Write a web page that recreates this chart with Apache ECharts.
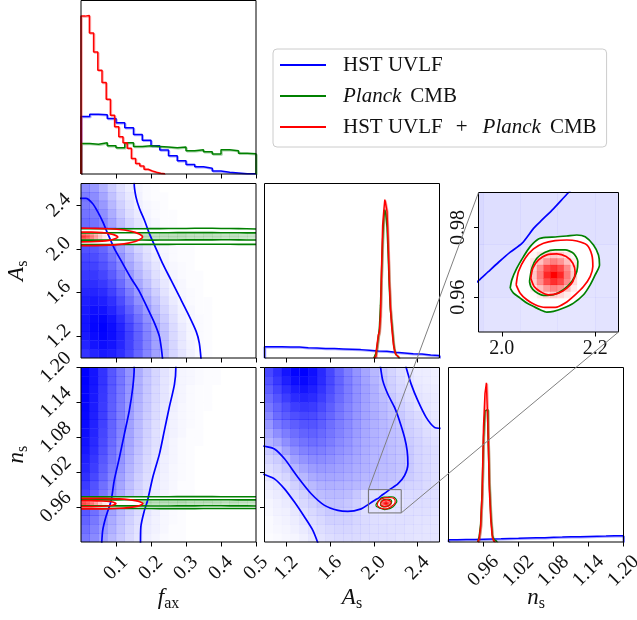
<!DOCTYPE html>
<html>
<head>
<meta charset="utf-8">
<script src="https://cdn.jsdelivr.net/npm/echarts@6/dist/echarts.min.js"></script>
<style>
  html, body { margin: 0; padding: 0; background: #ffffff; }
  #chart { width: 637px; height: 620px; }
</style>
</head>
<body>
<div id="chart"></div>
<script>
// ---------------- data ----------------
const NAME_BLUE = 'HST UVLF';
const NAME_GREEN = 'Planck CMB';
const NAME_RED = 'HST UVLF + Planck CMB';

// axis ranges and tick positions
const faxRange = [0, 0.5];
const asRange = [1.0, 2.6];
const nsRange = [0.9, 1.2];
const insetAsRange = [1.95, 2.25];
const insetNsRange = [0.95, 0.99];
const faxTicks = [0.1, 0.2, 0.3, 0.4, 0.5];
const asTicks = [1.2, 1.6, 2.0, 2.4];
const nsTicks = [0.96, 1.02, 1.08, 1.14, 1.20];
const insetAsTicks = [2.0, 2.2];
const insetNsTicks = [0.96, 0.98];

// 1D marginals (first bin edge, bin width, heights)
const faxBlueBins = [0, 0.025];
const faxBlue = [33.1, 34.5, 34.1, 32.0, 29.5, 26.6, 22.8, 19.5, 16.3, 13.8, 10.5, 7.7, 5.5, 4.2, 3.3, 1.7, 1.0, 0.6, 0.2, 0.2];
const faxGreenBins = [0, 0.025];
const faxGreen = [17.6, 17.2, 18.0, 16.3, 15.1, 18.0, 15.9, 16.3, 15.9, 15.5, 15.1, 15.5, 13.4, 14.0, 12.8, 11.5, 14.0, 13.4, 11.9, 11.7];
const faxRedBins = [0, 0.012];
const faxRed = [91.0, 91.4, 81.2, 70.3, 59.8, 52.7, 43.1, 33.9, 27.2, 21.5, 18.0, 14.8, 9.0, 6.1, 4.6, 2.7, 1.7, 1.0, 0.4, 0.2];

const asBlueBins = [1.0, 0.08];
const asBlue = [6.5, 6.5, 6.3, 6.3, 5.9, 5.7, 5.5, 5.4, 5.2, 5.0, 4.8, 4.4, 4.0, 3.8, 3.3, 2.9, 2.5, 2.3, 1.7, 1.5];
const asGreenBins = [2.0, 0.01];
const asGreen = [0.5, 1.5, 3, 7, 12, 17, 30, 50, 68, 80, 85, 82, 75, 60, 42, 28, 22, 15, 8, 4, 2, 1, 0.5];
const asRedBins = [2.0, 0.01];
const asRed = [0.2, 1.1, 3.4, 8.2, 13, 15, 24, 52, 76, 84, 90.8, 87.6, 84, 65, 45, 30, 20, 13, 7, 4, 2, 1, 0.3];

const nsBlueBins = [0.9, 0.015];
const nsBlue = [1.3, 1.4, 1.4, 1.6, 1.7, 1.8, 2.0, 2.1, 2.3, 2.4, 2.5, 2.7, 2.8, 3.0, 3.0, 3.2, 3.3, 3.4, 3.6, 3.6];
const nsGreenBins = [0.95, 0.0025];
const nsGreen = [1, 3, 10, 28, 60, 75, 76, 65, 33, 15, 4, 1.5, 0.5];
const nsRedBins = [0.95, 0.0025];
const nsRed = [0.2, 2, 8.6, 27.7, 66, 85, 91.2, 66, 29.6, 12.4, 2.9, 0.4];

// 2D densities of HST UVLF (rows listed from the top of each panel), percent shading
const faxAsBlue = [
  [45,40,30,20,12,7,4,2,1,0,0,0,0,0,0,0,0,0,0,0],
  [50,45,35,24,15,9,5,2,1,1,0,0,0,0,0,0,0,0,0,0],
  [52,48,40,28,18,11,6,3,2,1,0,0,0,0,0,0,0,0,0,0],
  [55,52,44,32,21,13,8,4,2,1,1,0,0,0,0,0,0,0,0,0],
  [58,55,48,36,25,16,10,5,3,1,1,0,0,0,0,0,0,0,0,0],
  [60,58,52,40,28,19,12,7,4,2,1,1,0,0,0,0,0,0,0,0],
  [64,62,56,44,32,22,14,9,5,3,1,1,0,0,0,0,0,0,0,0],
  [68,66,60,49,37,26,17,11,6,3,2,1,1,0,0,0,0,0,0,0],
  [72,70,64,54,42,30,21,13,8,4,2,1,1,0,0,0,0,0,0,0],
  [75,74,68,59,47,35,25,16,10,5,3,2,1,0,0,0,0,0,0,0],
  [78,78,73,64,52,40,29,20,12,7,4,2,1,1,0,0,0,0,0,0],
  [82,82,78,70,58,45,34,24,15,9,5,3,1,1,0,0,0,0,0,0],
  [85,86,83,75,64,51,39,28,19,11,6,3,2,1,0,0,0,0,0,0],
  [88,90,88,81,70,57,44,33,23,14,8,4,2,1,1,0,0,0,0,0],
  [90,94,93,86,76,63,50,38,27,17,10,5,3,1,1,0,0,0,0,0],
  [92,97,98,92,82,69,56,43,31,20,12,6,3,2,1,0,0,0,0,0],
  [92,98,100,95,86,73,60,47,35,23,14,8,4,2,1,0,0,0,0,0],
  [90,96,99,95,87,75,62,49,37,25,15,9,4,2,1,0,0,0,0,0],
  [86,92,95,92,85,74,62,49,37,26,16,9,5,2,1,0,0,0,0,0],
  [80,86,90,88,82,72,60,48,37,26,16,10,5,2,1,0,0,0,0,0]
];
const faxNsBlue = [
  [100,92,80,66,54,42,32,23,16,11,7,4,3,2,1,1,0,0,0,0],
  [100,92,80,66,54,42,31,22,16,10,7,4,3,2,1,1,0,0,0,0],
  [99,91,79,65,53,41,31,22,15,10,6,4,2,1,1,0,0,0,0,0],
  [99,90,78,64,52,40,30,21,15,10,6,4,2,1,1,0,0,0,0,0],
  [98,89,77,63,51,39,29,21,14,9,6,3,2,1,1,0,0,0,0,0],
  [97,88,76,62,50,38,28,20,14,9,5,3,2,1,0,0,0,0,0,0],
  [96,87,75,61,49,37,27,19,13,8,5,3,2,1,0,0,0,0,0,0],
  [95,86,73,60,48,36,26,18,12,8,5,3,1,1,0,0,0,0,0,0],
  [93,84,71,58,46,35,25,17,12,7,4,2,1,1,0,0,0,0,0,0],
  [91,82,69,56,44,33,24,16,11,7,4,2,1,0,0,0,0,0,0,0],
  [88,79,66,54,42,31,22,15,10,6,4,2,1,0,0,0,0,0,0,0],
  [85,76,63,51,40,29,21,14,9,6,3,2,1,0,0,0,0,0,0,0],
  [81,72,60,48,37,27,19,13,8,5,3,2,1,0,0,0,0,0,0,0],
  [77,68,56,45,35,25,18,12,8,5,3,1,1,0,0,0,0,0,0,0],
  [73,64,53,42,32,23,16,11,7,4,2,1,1,0,0,0,0,0,0,0],
  [69,60,49,39,30,21,15,10,6,4,2,1,0,0,0,0,0,0,0,0],
  [65,56,46,36,27,20,14,9,6,3,2,1,0,0,0,0,0,0,0,0],
  [61,53,43,33,25,18,12,8,5,3,2,1,0,0,0,0,0,0,0,0],
  [57,49,40,31,23,16,11,7,5,3,1,1,0,0,0,0,0,0,0,0],
  [53,46,37,28,21,15,10,6,4,2,1,1,0,0,0,0,0,0,0,0]
];
const asNsBlue = [
  [72,82,92,99,100,94,84,72,60,50,42,35,28,22,17,13,10,7,7,6],
  [68,78,88,95,97,92,83,72,61,51,43,36,29,23,18,14,10,8,7,6],
  [63,73,82,89,92,88,80,70,60,51,43,37,31,24,19,15,12,9,8,7],
  [58,67,76,83,86,83,76,67,58,50,43,37,31,26,21,17,13,10,9,8],
  [53,61,69,76,79,77,71,63,55,48,42,36,31,27,23,19,15,11,9,8],
  [47,58,64,69,72,71,66,60,53,47,41,36,32,28,24,21,17,14,10,9],
  [41,52,58,63,67,67,63,57,51,46,40,35,31,28,25,22,18,15,12,9],
  [35,44,51,57,61,62,59,54,49,44,39,34,30,28,25,23,19,16,13,11],
  [29,35,44,51,55,57,55,51,46,42,37,33,30,27,25,23,20,17,14,12],
  [21,26,36,44,49,51,50,47,43,40,36,32,29,27,25,23,21,17,15,13],
  [17,20,27,37,42,45,45,43,40,37,34,31,28,27,25,23,21,17,15,13],
  [13,16,21,29,35,39,40,39,37,35,32,30,28,26,25,23,21,17,15,13],
  [10,13,16,23,28,33,35,35,34,32,30,28,27,25,24,22,20,17,15,13],
  [8,10,13,18,23,27,30,31,30,29,28,26,24,22,20,18,17,16,14,13],
  [6,8,10,14,18,23,26,27,27,26,22,15,13,12,12,12,14,14,13,12],
  [4,6,8,11,15,18,22,24,24,22,19,14,12,11,11,11,13,13,13,12],
  [3,5,6,9,12,15,18,21,21,20,17,13,11,10,10,11,12,12,12,11],
  [2,4,5,7,10,13,15,18,18,18,16,14,13,12,12,12,12,11,11,10],
  [2,3,4,6,8,11,13,15,16,16,15,14,13,13,12,12,11,11,10,10],
  [1,2,3,4,6,9,11,13,14,14,14,13,13,12,12,11,11,10,10,10]
];

// HST UVLF contours
const faxAsBlueInner = [[-0.01,2.463],[0,2.463],[0.014,2.463],[0.033,2.417],[0.048,2.34],[0.062,2.25],[0.076,2.143],[0.095,2.006],[0.119,1.868],[0.143,1.731],[0.167,1.609],[0.19,1.457],[0.21,1.32],[0.224,1.198],[0.23,1.076],[0.233,0.99]];
const faxAsBlueOuter = [[0.152,2.61],[0.152,2.6],[0.157,2.478],[0.167,2.371],[0.181,2.265],[0.195,2.143],[0.214,2.006],[0.233,1.868],[0.257,1.716],[0.281,1.564],[0.305,1.411],[0.329,1.244],[0.338,1.137],[0.343,0.99]];
const faxNsBlueInner = [[0.152,1.205],[0.152,1.2],[0.148,1.166],[0.138,1.126],[0.124,1.086],[0.11,1.046],[0.095,1.006],[0.086,0.971],[0.071,0.943],[0.062,0.92],[0.059,0.895]];
const faxNsBlueOuter = [[0.271,1.205],[0.271,1.2],[0.267,1.171],[0.252,1.131],[0.238,1.091],[0.224,1.051],[0.205,1.011],[0.19,0.971],[0.181,0.954],[0.171,0.926],[0.17,0.895]];
const asNsBlueInner = [[0.99,1.0652],[1.0,1.0646],[1.091,1.06],[1.183,1.043],[1.305,1.0114],[1.427,0.983],[1.549,0.963],[1.671,0.9543],[1.762,0.9526],[1.884,0.957],[1.95,0.9647],[1.971,0.9673],[1.993,0.97],[2.018,0.9729],[2.043,0.9754],[2.068,0.9797],[2.082,0.9816],[2.111,0.9854],[2.143,0.99],[2.219,1.0],[2.28,1.0143],[2.311,1.0343],[2.304,1.0571],[2.28,1.08],[2.234,1.1086],[2.189,1.1314],[2.128,1.154],[2.082,1.177],[2.061,1.2],[2.057,1.205]];
const asNsBlueOuterLow = [[0.99,1.017],[1.0,1.016],[1.091,1.0086],[1.183,0.9914],[1.274,0.9686],[1.366,0.9429],[1.442,0.92],[1.488,0.8983],[1.49,0.895]];
const asNsBlueOuterHigh = [[2.29,1.205],[2.295,1.2],[2.341,1.1714],[2.402,1.1429],[2.478,1.1143],[2.554,1.097],[2.61,1.0954]];

// Planck CMB bands across f_ax
const bandF = [0, 0.05, 0.1, 0.15, 0.2, 0.25, 0.3, 0.35, 0.4, 0.45, 0.5];
const bandAsOuterTop = [2.185, 2.185, 2.184, 2.185, 2.186, 2.187, 2.188, 2.19, 2.188, 2.186, 2.183];
const bandAsInnerTop = [2.147, 2.147, 2.148, 2.148, 2.149, 2.149, 2.15, 2.15, 2.149, 2.148, 2.147];
const bandAsInnerBot = [2.081, 2.081, 2.082, 2.082, 2.081, 2.082, 2.083, 2.083, 2.084, 2.083, 2.082];
const bandAsOuterBot = [2.04, 2.04, 2.041, 2.041, 2.042, 2.042, 2.043, 2.043, 2.043, 2.042, 2.042];
const bandNsOuterTop = [0.9776, 0.9776, 0.9777, 0.9777, 0.9778, 0.9779, 0.978, 0.978, 0.9779, 0.9778, 0.9777];
const bandNsInnerTop = [0.9725, 0.9725, 0.9725, 0.9726, 0.9726, 0.9727, 0.9727, 0.9726, 0.9726, 0.9725, 0.9725];
const bandNsInnerBot = [0.9622, 0.9622, 0.9621, 0.9621, 0.962, 0.962, 0.9621, 0.9622, 0.9622, 0.9621, 0.962];
const bandNsOuterBot = [0.9577, 0.9576, 0.9576, 0.9575, 0.9575, 0.9574, 0.9574, 0.9575, 0.9576, 0.9576, 0.9575];
// Planck CMB band shading (4 rows inside the inner band, 20 f_ax bins)
const bandGreenShade = [
  [14,14,15,16,15,15,17,16,16,18,17,19,16,17,18,16,15,16,14,14],
  [22,24,23,25,24,24,26,28,25,27,26,28,25,24,26,24,23,25,22,21],
  [21,23,24,24,23,25,25,27,26,25,27,26,24,25,23,25,22,24,21,20],
  [13,13,14,15,15,14,16,17,15,17,16,17,16,15,17,14,14,15,13,12]
];

// combined fit contours across f_ax
const faxAsRedOuter = [[0,2.19],[0.04,2.189],[0.08,2.185],[0.11,2.178],[0.135,2.167],[0.155,2.152],[0.168,2.134],[0.176,2.11],[0.168,2.086],[0.155,2.068],[0.135,2.053],[0.11,2.042],[0.08,2.035],[0.04,2.031],[0,2.03]];
const faxAsRedInner = [[0,2.155],[0.03,2.154],[0.06,2.149],[0.08,2.141],[0.095,2.129],[0.105,2.11],[0.095,2.091],[0.08,2.079],[0.06,2.071],[0.03,2.066],[0,2.065]];
const faxNsRedOuter = [[0,0.9752],[0.04,0.9751],[0.08,0.9747],[0.11,0.974],[0.135,0.9728],[0.155,0.9712],[0.168,0.9692],[0.177,0.966],[0.168,0.9628],[0.155,0.9608],[0.135,0.9592],[0.11,0.958],[0.08,0.9573],[0.04,0.9569],[0,0.9568]];
const faxNsRedInner = [[0,0.9712],[0.03,0.9711],[0.06,0.9705],[0.08,0.9697],[0.093,0.9683],[0.1,0.966],[0.093,0.9637],[0.08,0.9623],[0.06,0.9615],[0.03,0.9609],[0,0.9608]];
// combined fit shading near f_ax = 0 (6 rows, 8 f_ax bins)
const faxRedShade = [
  [30,25,20,12,6,2,0,0],
  [55,48,38,25,14,6,2,0],
  [75,65,50,35,20,9,3,1],
  [72,62,48,33,18,8,3,1],
  [52,45,35,23,13,5,2,0],
  [28,22,17,10,5,2,0,0]
];

// A_s - n_s contours of Planck CMB and of the combined fit
const asNsGreenOuter = [[2.0179,0.96257],[2.0214,0.96495],[2.0321,0.96829],[2.0464,0.97162],[2.0607,0.97448],[2.0786,0.97667],[2.0964,0.97714],[2.1143,0.97724],[2.1393,0.97752],[2.1607,0.97781],[2.1786,0.97733],[2.1964,0.97495],[2.2071,0.9721],[2.2093,0.96924],[2.2,0.96638],[2.1893,0.96352],[2.175,0.96067],[2.1536,0.95829],[2.1321,0.95686],[2.1107,0.9559],[2.0964,0.95571],[2.0821,0.95638],[2.0679,0.95733],[2.0536,0.95829],[2.0393,0.95971],[2.025,0.96114],[2.0179,0.96257]];
const asNsGreenInner = [[2.0593,0.96448],[2.0643,0.96829],[2.075,0.97114],[2.0929,0.97286],[2.1143,0.97352],[2.1357,0.97352],[2.1536,0.97257],[2.1629,0.97019],[2.1607,0.96733],[2.15,0.96448],[2.1321,0.9621],[2.1107,0.96067],[2.0893,0.96048],[2.0714,0.96162],[2.0621,0.96305],[2.0593,0.96448]];
const asNsRedOuter = [[2.0307,0.96352],[2.0357,0.96733],[2.05,0.97114],[2.0679,0.97381],[2.0893,0.97543],[2.1143,0.97619],[2.1393,0.97638],[2.1607,0.9761],[2.1821,0.97495],[2.1929,0.9721],[2.195,0.96876],[2.1893,0.9659],[2.175,0.96305],[2.1571,0.96067],[2.1357,0.95829],[2.1143,0.95705],[2.0929,0.95705],[2.0714,0.95781],[2.0536,0.95924],[2.0393,0.96114],[2.0307,0.96352]];
const asNsRedInner = [[2.0621,0.96543],[2.0664,0.96829],[2.0786,0.97067],[2.0964,0.9721],[2.1179,0.97238],[2.1379,0.97162],[2.1521,0.96971],[2.1571,0.96714],[2.1521,0.96448],[2.1393,0.96257],[2.1214,0.96114],[2.1,0.96067],[2.0821,0.96162],[2.0693,0.96305],[2.0621,0.96543]];
const asNsRedShade = [
  [3,10,18,22,18,10,3],
  [10,25,42,50,42,25,8],
  [18,45,72,80,70,45,15],
  [22,52,85,100,85,52,20],
  [18,45,70,82,72,45,15],
  [8,25,40,48,42,25,8],
  [2,8,15,20,15,8,2]
];

// ---------------- drawing ----------------
const FONT = 'Liberation Serif';
const INK = '#111111';
const BLUE = '#0000ff', GREEN = '#008000', RED = '#ff0000';
const HALO = { '#0000ff': 'rgba(0,0,255,0.35)', '#008000': 'rgba(0,128,0,0.35)', '#ff0000': 'rgba(255,0,0,0.35)' };

const chart = echarts.init(document.getElementById('chart'), null, { renderer: 'canvas' });

// panel rectangles: 0 f_ax marginal, 1 f_ax-A_s, 2 A_s marginal, 3 f_ax-n_s, 4 A_s-n_s, 5 n_s marginal, 6 zoom
const PANELS = [
  { left: 81, top: 0.5, width: 175, height: 173.5 },
  { left: 81, top: 183.5, width: 175, height: 174.5 },
  { left: 264.5, top: 183.5, width: 175, height: 174.5 },
  { left: 81, top: 367.5, width: 175, height: 174.5 },
  { left: 264.5, top: 367.5, width: 175, height: 174.5 },
  { left: 448.5, top: 367.5, width: 175, height: 174.5 },
  { left: 478.5, top: 192.5, width: 140, height: 139.5 }
];

const nameRich = {
  i: { fontFamily: FONT, fontStyle: 'italic', fontSize: 23, lineHeight: 28, color: INK },
  s: { fontFamily: FONT, fontSize: 16, lineHeight: 16, verticalAlign: 'bottom', color: INK }
};

function axis(gridIndex, range, ticks, o) {
  o = o || {};
  const a = {
    type: 'value', gridIndex, min: range[0], max: range[1],
    axisLine: { show: false },
    splitLine: { show: false },
    axisTick: { show: !!ticks, inside: false, length: 4.5, customValues: ticks || undefined, lineStyle: { color: '#000', width: 1 } },
    axisLabel: { show: false }
  };
  if (o.decimals !== undefined) {
    a.axisLabel = {
      show: true, customValues: ticks, rotate: o.rotate, align: 'center', verticalAlign: 'middle',
      margin: o.margin, fontFamily: FONT, fontSize: 20, color: INK,
      formatter: v => Number(v).toFixed(o.decimals)
    };
  }
  if (o.name) {
    a.name = o.name;
    a.nameLocation = 'middle';
    a.nameGap = o.nameGap;
    a.nameMoveOverlap = false;
    a.nameTextStyle = { rich: nameRich };
  }
  return a;
}
function hiddenAxis(gridIndex, range) {
  return { type: 'value', gridIndex, min: range[0], max: range[1], show: false };
}

function stepPoints(bins, h) {
  const start = bins[0], w = bins[1];
  const pts = [[start, 0]];
  h.forEach((v, i) => pts.push([start + i * w, v]));
  pts.push([start + h.length * w, h[h.length - 1]]);
  pts.push([start + h.length * w, 0]);
  return pts;
}
function histSeries(grid, name, color, bins, h) {
  return {
    type: 'line', name, xAxisIndex: grid, yAxisIndex: grid, data: stepPoints(bins, h), step: 'end',
    showSymbol: false, symbol: 'none', silent: true, z: 5,
    lineStyle: { color, width: 1.5, shadowColor: HALO[color], shadowBlur: 0, shadowOffsetX: 1, shadowOffsetY: 1 },
    itemStyle: { color }
  };
}
function lineSeries(grid, pts, color, z, width) {
  return {
    type: 'line', xAxisIndex: grid, yAxisIndex: grid, data: pts, showSymbol: false, symbol: 'none',
    smooth: 0.25, silent: true, z, clip: true, lineStyle: { color, width: width || 1.7 }
  };
}
// shaded cells: x bins run right from xBins[0], y bins run down from yBins[0]
function cellSeries(grid, xBins, yBins, rows, color, z) {
  const data = [];
  rows.forEach((row, r) => row.forEach((v, c) => {
    if (v <= 0) return;
    const xa = xBins[0] + c * xBins[1];
    const yb = yBins[0] - (r + 1) * yBins[1];
    data.push([xa, xa + xBins[1], yb, yb + yBins[1], v]);
  }));
  return {
    type: 'custom', xAxisIndex: grid, yAxisIndex: grid, silent: true, z,
    encode: { x: [0, 1], y: [2, 3] }, data,
    renderItem(params, api) {
      const p0 = api.coord([api.value(0), api.value(3)]);
      const p1 = api.coord([api.value(1), api.value(2)]);
      const rect = echarts.graphic.clipRectByRect({
        x: p0[0] - 0.15, y: p0[1] - 0.15, width: p1[0] - p0[0] + 0.3, height: p1[1] - p0[1] + 0.3
      }, { x: params.coordSys.x, y: params.coordSys.y, width: params.coordSys.width, height: params.coordSys.height });
      if (!rect) return;
      return { type: 'rect', shape: rect, style: { fill: color, opacity: api.value(4) / 100 } };
    }
  };
}
function polygonSeries(grid, pts, style, z) {
  return {
    type: 'custom', xAxisIndex: grid, yAxisIndex: grid, silent: true, z,
    encode: { x: 0, y: 1 }, data: [pts[0]],
    renderItem(params, api) {
      return { type: 'polygon', shape: { points: pts.map(p => api.coord(p)) }, style: Object.assign({}, style) };
    }
  };
}
const pair = (xs, ys) => xs.map((x, i) => [x, ys[i]]);
function bandPolygon(xs, top, bot) {
  return pair(xs, top).concat(pair(xs, bot).reverse());
}

const series = [];
// marginals
series.push(histSeries(0, NAME_BLUE, BLUE, faxBlueBins, faxBlue));
series.push(histSeries(0, NAME_GREEN, GREEN, faxGreenBins, faxGreen));
series.push(histSeries(0, NAME_RED, RED, faxRedBins, faxRed));
series.push(histSeries(2, null, BLUE, asBlueBins, asBlue));
series.push(histSeries(2, null, GREEN, asGreenBins, asGreen));
series.push(histSeries(2, null, RED, asRedBins, asRed));
series.push(histSeries(5, null, BLUE, nsBlueBins, nsBlue));
series.push(histSeries(5, null, GREEN, nsGreenBins, nsGreen));
series.push(histSeries(5, null, RED, nsRedBins, nsRed));

// f_ax - A_s
series.push(cellSeries(1, [faxRange[0], 0.025], [asRange[1], 0.08], faxAsBlue, BLUE, 1));
series.push(polygonSeries(1, bandPolygon(bandF, bandAsOuterTop, bandAsOuterBot), { fill: '#ffffff' }, 2));
series.push(cellSeries(1, [0, 0.025], [bandAsInnerTop[0], 0.01625], bandGreenShade, GREEN, 3));
series.push(polygonSeries(1, faxAsRedOuter, { fill: '#ffffff' }, 4));
series.push(cellSeries(1, [0, 0.012], [2.152, 0.014], faxRedShade, RED, 5));
series.push(lineSeries(1, faxAsBlueInner, BLUE, 6));
series.push(lineSeries(1, faxAsBlueOuter, BLUE, 6));
[bandAsOuterTop, bandAsInnerTop, bandAsInnerBot, bandAsOuterBot].forEach(b => series.push(lineSeries(1, pair(bandF, b), GREEN, 7, 1.6)));
series.push(lineSeries(1, faxAsRedOuter, RED, 8));
series.push(lineSeries(1, faxAsRedInner, RED, 8));

// f_ax - n_s
series.push(cellSeries(3, [faxRange[0], 0.025], [nsRange[1], 0.015], faxNsBlue, BLUE, 1));
series.push(polygonSeries(3, bandPolygon(bandF, bandNsOuterTop, bandNsOuterBot), { fill: '#ffffff' }, 2));
series.push(cellSeries(3, [0, 0.025], [bandNsInnerTop[0], 0.002575], bandGreenShade, GREEN, 3));
series.push(polygonSeries(3, faxNsRedOuter, { fill: '#ffffff' }, 4));
series.push(cellSeries(3, [0, 0.012], [0.9717, 0.0019], faxRedShade, RED, 5));
series.push(lineSeries(3, faxNsBlueInner, BLUE, 6));
series.push(lineSeries(3, faxNsBlueOuter, BLUE, 6));
[bandNsOuterTop, bandNsInnerTop, bandNsInnerBot, bandNsOuterBot].forEach(b => series.push(lineSeries(3, pair(bandF, b), GREEN, 7, 1.6)));
series.push(lineSeries(3, faxNsRedOuter, RED, 8));
series.push(lineSeries(3, faxNsRedInner, RED, 8));

// A_s - n_s, full panel (4) and zoomed panel (6)
[4, 6].forEach(g => {
  const w = g === 6 ? 1.7 : 1.2;
  series.push(cellSeries(g, [asRange[0], 0.08], [nsRange[1], 0.015], asNsBlue, BLUE, 1));
  series.push(polygonSeries(g, asNsGreenOuter, { fill: '#ffffff' }, 2));
  series.push(polygonSeries(g, asNsRedOuter, { fill: '#ffffff' }, 3));
  series.push(cellSeries(g, [2.061, 0.0143], [0.973, 0.0019], asNsRedShade, RED, 5));
  series.push(lineSeries(g, asNsBlueInner, BLUE, 6));
  series.push(lineSeries(g, asNsBlueOuterLow, BLUE, 6));
  series.push(lineSeries(g, asNsBlueOuterHigh, BLUE, 6));
  series.push(lineSeries(g, asNsGreenOuter, GREEN, 7, w));
  series.push(lineSeries(g, asNsGreenInner, GREEN, 7, w));
  series.push(lineSeries(g, asNsRedOuter, RED, 8, w));
  series.push(lineSeries(g, asNsRedInner, RED, 8, w));
});
// outline of the zoomed region
series.push(polygonSeries(4, [
  [insetAsRange[0], insetNsRange[0]], [insetAsRange[1], insetNsRange[0]],
  [insetAsRange[1], insetNsRange[1]], [insetAsRange[0], insetNsRange[1]]
], { fill: 'none', stroke: '#707070', lineWidth: 1 }, 12));

const legendText = {
  r: { fontFamily: FONT, fontSize: 21, lineHeight: 24, color: INK },
  it: { fontFamily: FONT, fontSize: 21, lineHeight: 24, fontStyle: 'italic', color: INK },
  plus: { fontFamily: FONT, fontSize: 21, lineHeight: 24, color: INK, padding: [0, 15, 0, 13] },
  cmb: { fontFamily: FONT, fontSize: 21, lineHeight: 24, color: INK, padding: [0, 0, 0, 9] }
};

const option = {
  animation: false,
  backgroundColor: '#ffffff',
  grid: PANELS.map(p => Object.assign({
    show: true, borderColor: '#000', borderWidth: 1, backgroundColor: 'transparent',
    z: 20, containLabel: false, outerBoundsMode: 'none'
  }, p)),
  xAxis: [
    axis(0, faxRange, faxTicks),
    axis(1, faxRange, faxTicks),
    axis(2, asRange, asTicks),
    axis(3, faxRange, faxTicks, { decimals: 1, rotate: 45, margin: 26, name: '{i|f}{s|ax}', nameGap: 42 }),
    axis(4, asRange, asTicks, { decimals: 1, rotate: 45, margin: 26, name: '{i|A}{s|s}', nameGap: 42 }),
    axis(5, nsRange, nsTicks, { decimals: 2, rotate: 45, margin: 29, name: '{i|n}{s|s}', nameGap: 42 }),
    axis(6, insetAsRange, insetAsTicks, { decimals: 1, rotate: 0, margin: 17 })
  ],
  yAxis: [
    hiddenAxis(0, [0, 100]),
    axis(1, asRange, asTicks, { decimals: 1, rotate: 45, margin: 22, name: '{i|A}{s|s}', nameGap: 50 }),
    hiddenAxis(2, [0, 100]),
    axis(3, nsRange, nsTicks, { decimals: 2, rotate: 45, margin: 25, name: '{i|n}{s|s}', nameGap: 50 }),
    axis(4, nsRange, nsTicks),
    hiddenAxis(5, [0, 100]),
    axis(6, insetNsRange, insetNsTicks, { decimals: 2, rotate: 90, margin: 20 })
  ],
  legend: {
    left: 273, top: 49, orient: 'vertical', selectedMode: false,
    padding: [4, 10, 8, 7], itemGap: 7, itemWidth: 46, itemHeight: 2, icon: 'rect',
    borderColor: '#cccccc', borderWidth: 1, borderRadius: 4, backgroundColor: '#ffffff',
    data: [
      { name: NAME_BLUE, itemStyle: { color: BLUE } },
      { name: NAME_GREEN, itemStyle: { color: GREEN } },
      { name: NAME_RED, itemStyle: { color: RED } }
    ],
    textStyle: { fontFamily: FONT, fontSize: 21, lineHeight: 24, color: INK, padding: [0, 0, 0, 12], rich: legendText },
    formatter(name) {
      if (name === NAME_BLUE) return '{r|HST UVLF}';
      if (name === NAME_GREEN) return '{it|Planck}{cmb|CMB}';
      return '{r|HST UVLF}{plus|+}{it|Planck}{cmb|CMB}';
    }
  },
  series
};
chart.setOption(option);

// connector lines from the outlined region to the zoomed panel
const boxTL = chart.convertToPixel({ gridIndex: 4 }, [insetAsRange[0], insetNsRange[1]]);
const boxBR = chart.convertToPixel({ gridIndex: 4 }, [insetAsRange[1], insetNsRange[0]]);
const zoomTL = chart.convertToPixel({ gridIndex: 6 }, [insetAsRange[0], insetNsRange[1]]);
const zoomBR = chart.convertToPixel({ gridIndex: 6 }, [insetAsRange[1], insetNsRange[0]]);
chart.setOption({
  graphic: [
    { type: 'line', z: 30, silent: true, shape: { x1: boxTL[0], y1: boxTL[1], x2: zoomTL[0], y2: zoomTL[1] }, style: { stroke: '#808080', lineWidth: 1 } },
    { type: 'line', z: 30, silent: true, shape: { x1: boxBR[0], y1: boxBR[1], x2: zoomBR[0], y2: zoomBR[1] }, style: { stroke: '#808080', lineWidth: 1 } }
  ]
});
</script>
</body>
</html>
